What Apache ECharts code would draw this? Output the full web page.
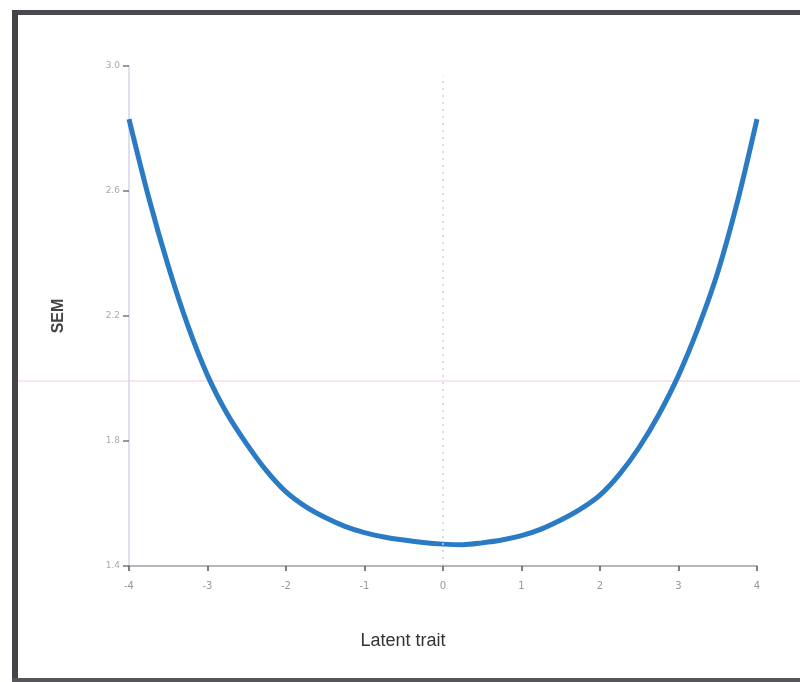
<!DOCTYPE html>
<html>
<head>
<meta charset="utf-8">
<script src="https://cdn.jsdelivr.net/npm/echarts@6/dist/echarts.min.js"></script>
<style>
  html, body { margin: 0; padding: 0; background: #ffffff; }
  #chart { width: 800px; height: 682px; }
</style>
</head>
<body>
<div id="chart"></div>
<script>
// Latent trait values (theta) along the x axis
const theta = [-4, -3.75, -3.5, -3.25, -3, -2.75, -2.5, -2.25, -2, -1.75, -1.5, -1.25, -1, -0.75, -0.5, -0.25,
               0, 0.25, 0.5, 0.75, 1, 1.25, 1.5, 1.75, 2, 2.25, 2.5, 2.75, 3, 3.25, 3.5, 3.75, 4];
// Standard error of measurement at each theta
const sem = [2.83, 2.58, 2.36, 2.169, 2.01, 1.887, 1.79, 1.705, 1.637, 1.59, 1.555, 1.527, 1.507, 1.493, 1.483, 1.475,
             1.47, 1.468, 1.474, 1.483, 1.497, 1.518, 1.547, 1.582, 1.627, 1.694, 1.78, 1.885, 2.01, 2.162, 2.34, 2.565, 2.83];
const yTickLabels = { '1.4': '1.4', '1.8': '1.8', '2.2': '2.2', '2.6': '2.6', '3': '3.0' };

const chart = echarts.init(document.getElementById('chart'));
chart.setOption({
  animation: false,
  backgroundColor: '#ffffff',
  grid: { left: 129, right: 43, top: 66, bottom: 116 },
  xAxis: {
    type: 'value',
    min: -4, max: 4, interval: 1,
    name: 'Latent trait',
    nameLocation: 'middle',
    nameGap: 66,
    nameTextStyle: { color: '#333', fontSize: 18, fontFamily: 'Liberation Sans Narrow, Liberation Sans, Arial', padding: [0, 80, 0, 0] },
    axisLine: { onZero: false, lineStyle: { color: '#9aa0a8', width: 1.5 } },
    axisTick: { inside: false, length: 5, lineStyle: { color: '#555', width: 1.5 } },
    axisLabel: { color: '#999', fontSize: 10, margin: 15, fontFamily: 'DejaVu Sans' },
    splitLine: { show: false }
  },
  yAxis: {
    type: 'value',
    min: 1.4, max: 3.0, interval: 0.4,
    name: 'SEM',
    nameLocation: 'middle',
    nameGap: 62,
    nameRotate: 90,
    nameTextStyle: { color: '#444', fontSize: 16, fontWeight: 'bold', fontFamily: 'Liberation Sans, Arial' },
    axisLine: { show: true, onZero: false, lineStyle: { color: '#d6d6e6', width: 1.5 } },
    axisTick: { show: true, length: 6, lineStyle: { color: '#777', width: 1.5 } },
    axisLabel: { color: '#aaa', fontSize: 9, margin: 9, fontFamily: 'DejaVu Sans',
                 formatter: v => yTickLabels[String(Math.round(v * 10) / 10)] || '' },
    splitLine: { show: false }
  },
  series: [
    {
      type: 'line',
      data: theta.map((t, i) => [t, sem[i]]),
      smooth: 0.3,
      showSymbol: false,
      lineStyle: { color: '#2b7bc4', width: 5 },
      markLine: {
        silent: true,
        symbol: 'none',
        label: { show: false },
        lineStyle: { color: '#d0d0dc', type: [2, 5], width: 1.5 },
        data: [[{ coord: [0, 1.4] }, { coord: [0, 2.97] }]]
      },
      z: 3
    }
  ],
  graphic: [
    // faint horizontal streak across the page
    { type: 'line', shape: { x1: 18, y1: 381, x2: 800, y2: 381 }, style: { stroke: '#f0c8e6', lineWidth: 1 }, silent: true },
    // dark frame around the figure
    { type: 'rect', shape: { x: 12, y: 10, width: 788, height: 5 }, style: { fill: '#4a4a4e' }, silent: true },
    { type: 'rect', shape: { x: 12, y: 10, width: 6, height: 672 }, style: { fill: '#444448' }, silent: true },
    { type: 'rect', shape: { x: 12, y: 678, width: 788, height: 4 }, style: { fill: '#55555a' }, silent: true }
  ]
});
</script>
</body>
</html>
